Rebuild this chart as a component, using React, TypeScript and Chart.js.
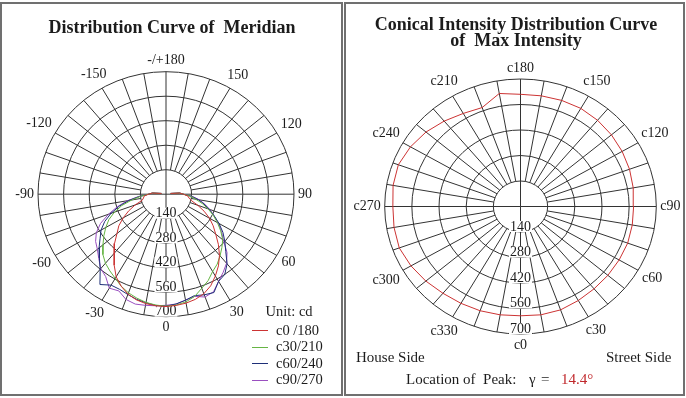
import React, { useEffect, useRef } from 'react';
import { Chart, registerables } from 'chart.js';

Chart.register(...registerables);

// ---------------- data ----------------
// Meridian (gamma) angles in degrees; negative = c180/c210/c240/c270 side
const gammaAngles = [-100, -95, -90, -85, -80, -75, -70, -65, -60, -55, -50, -45, -40, -35, -30, -25, -20, -15, -10, -5, 0,
  5, 10, 15, 20, 25, 30, 35, 40, 45, 50, 55, 60, 65, 70, 75, 80, 85, 90, 95, 100];
const c0_180 = [25, 75, 95, 120, 125, 135, 180, 225, 270, 315, 350, 398, 440, 495, 545, 580, 608, 625, 635, 640, 642,
  638, 632, 622, 605, 578, 540, 500, 455, 405, 355, 315, 275, 230, 185, 145, 128, 120, 95, 75, 25];
const c30_210 = [25, 75, 95, 140, 190, 250, 300, 345, 380, 415, 450, 488, 515, 535, 555, 580, 600, 615, 628, 636, 640,
  636, 625, 605, 572, 545, 510, 488, 460, 432, 405, 365, 325, 285, 245, 205, 165, 135, 95, 75, 25];
const c60_240 = [25, 75, 95, 145, 205, 265, 320, 370, 410, 440, 478, 515, 560, 630, 600, 600, 610, 622, 630, 638, 640,
  630, 615, 600, 612, 620, 575, 560, 520, 462, 420, 380, 335, 290, 250, 215, 180, 140, 95, 75, 25];
const c90_270 = [25, 75, 95, 150, 215, 275, 335, 395, 440, 470, 490, 520, 555, 575, 620, 610, 640, 650, 645, 640, 635,
  630, 615, 605, 625, 615, 575, 545, 515, 472, 410, 370, 330, 290, 255, 220, 185, 145, 95, 75, 25];

const seriesNames = ['c0 /180', 'c30/210', 'c60/240', 'c90/270'];
const seriesColors = ['#cc3333', '#66b544', '#1e2f78', '#9a4fc0'];

// Conical curve at gamma = 14.4
const coneAngles = [0, 10, 20, 30, 40, 50, 60, 70, 80, 90, 100, 110, 120, 130, 140, 150, 160, 170, 180,
  190, 200, 210, 220, 230, 240, 250, 260, 270, 280, 290, 300, 310, 320, 330, 340, 350];
const coneValues = [600, 604, 604, 596, 590, 588, 587, 588, 585, 583, 590, 598, 605, 612, 618, 622, 620, 617, 616,
  630, 578, 590, 612, 636, 655, 670, 667, 658, 662, 665, 652, 637, 622, 614, 609, 604];

// Tick labels
const ringTicks = [140, 280, 420, 560, 700];
const meridianTickAngles = [0, 30, 60, 90, 120, 150, 180, 210, 240, 270, 300, 330];
const meridianTickLabels = ['0', '30', '60', '90', '120', '150', '-/+180', '-150', '-120', '-90', '-60', '-30'];
const coneTickAngles = [0, 30, 60, 90, 120, 150, 180, 210, 240, 270, 300, 330];
const coneTickLabels = ['c0', 'c30', 'c60', 'c90', 'c120', 'c150', 'c180', 'c210', 'c240', 'c270', 'c300', 'c330'];

// ---------------- geometry / style ----------------
const SERIF = "'Liberation Serif', 'Times New Roman', serif";
const TEXT = '#1c1c1c';
const CANVAS_W = 343;
const CANVAS_H = 398;

type Geom = { cx: number; cy: number; rx: number; ry: number };
const leftGeom: Geom = { cx: 166, cy: 194.2, rx: 128, ry: 122.5 };
const rightGeom: Geom = { cx: 177.5, cy: 206.5, rx: 135.8, ry: 127.5 };

function toPoints(angles: number[], values: number[], close: boolean) {
  const pts = angles.map((a, i) => {
    const t = (a * Math.PI) / 180;
    return { x: values[i] * Math.sin(t), y: -values[i] * Math.cos(t) };
  });
  if (close) pts.push({ ...pts[0] });
  return pts;
}

function makeGridPlugin(tickAngles: number[], tickLabels: string[]) {
  return {
    id: 'polarGrid',
    beforeDatasetsDraw(chart: any) {
      const ctx: CanvasRenderingContext2D = chart.ctx;
      const xs = chart.scales.x;
      const ys = chart.scales.y;
      const cx = xs.getPixelForValue(0);
      const cy = ys.getPixelForValue(0);
      const rx = (v: number) => xs.getPixelForValue(v) - cx;
      const ry = (v: number) => cy - ys.getPixelForValue(v);
      const maxV = ringTicks[ringTicks.length - 1];
      const minV = ringTicks[0];
      const pt = (deg: number, v: number) => {
        const t = (deg * Math.PI) / 180;
        return [cx + rx(v) * Math.sin(t), cy + ry(v) * Math.cos(t)];
      };
      ctx.save();
      ctx.strokeStyle = '#333';
      ctx.lineWidth = 1;
      // rings
      ringTicks.forEach((t) => {
        ctx.beginPath();
        ctx.ellipse(cx, cy, rx(t), ry(t), 0, 0, Math.PI * 2);
        ctx.stroke();
      });
      // spokes every 10 degrees
      for (let a = 0; a < 360; a += 10) {
        const inner = a % 90 === 0 ? 0 : minV;
        const [x0, y0] = pt(a, inner);
        const [x1, y1] = pt(a, maxV);
        ctx.beginPath();
        ctx.moveTo(x0, y0);
        ctx.lineTo(x1, y1);
        ctx.stroke();
      }
      // ring labels along the 0 direction
      ctx.font = `14px ${SERIF}`;
      ctx.textAlign = 'center';
      ctx.textBaseline = 'middle';
      ringTicks.forEach((t) => {
        const y = cy + ry(t) - 5.5;
        const w = ctx.measureText(String(t)).width;
        ctx.fillStyle = '#fff';
        ctx.fillRect(cx - w / 2 - 1, y - 5.5, w + 2, 11);
        ctx.fillStyle = TEXT;
        ctx.fillText(String(t), cx, y + 0.5);
      });
      // angle labels
      tickAngles.forEach((a, i) => {
        const label = tickLabels[i];
        const t = (a * Math.PI) / 180;
        const s = Math.sin(t);
        const c = Math.cos(t);
        const w = ctx.measureText(label).width;
        const off = 4 + Math.abs(s) * (w / 2) + Math.abs(c) * 7;
        const [ex, ey] = pt(a, maxV);
        ctx.fillStyle = TEXT;
        ctx.fillText(label, ex + off * s, ey + off * c);
      });
      ctx.restore();
    },
  };
}

function PolarChart(props: {
  geom: Geom;
  left: number;
  datasets: any[];
  tickAngles: number[];
  tickLabels: string[];
}) {
  const ref = useRef<HTMLCanvasElement>(null);
  useEffect(() => {
    const { geom } = props;
    const maxV = ringTicks[ringTicks.length - 1];
    const kx = geom.rx / maxV;
    const ky = geom.ry / maxV;
    const chart = new Chart(ref.current as HTMLCanvasElement, {
      type: 'scatter',
      data: { datasets: props.datasets },
      options: {
        responsive: false,
        animation: false,
        devicePixelRatio: 1,
        events: [],
        layout: { padding: 0, autoPadding: false },
        plugins: { legend: { display: false }, tooltip: { enabled: false }, title: { display: false } },
        scales: {
          x: { type: 'linear', display: false, min: -geom.cx / kx, max: (CANVAS_W - geom.cx) / kx },
          y: { type: 'linear', display: false, min: -(CANVAS_H - geom.cy) / ky, max: geom.cy / ky },
        },
      } as any,
      plugins: [makeGridPlugin(props.tickAngles, props.tickLabels) as any],
    });
    return () => chart.destroy();
  }, []);
  return (
    <canvas
      ref={ref}
      width={CANVAS_W}
      height={CANVAS_H}
      style={{ position: 'absolute', left: props.left, top: 0, width: CANVAS_W, height: CANVAS_H }}
    />
  );
}

function Txt(props: {
  x: number;
  base: number;
  size: number;
  bold?: boolean;
  color?: string;
  align?: 'left' | 'center';
  children: React.ReactNode;
}) {
  const { x, base, size, bold, color, align } = props;
  return (
    <div
      style={{
        position: 'absolute',
        left: x,
        top: base - 0.8375 * size,
        fontFamily: SERIF,
        fontSize: size,
        lineHeight: `${size}px`,
        fontWeight: bold ? 'bold' : 'normal',
        color: color || TEXT,
        whiteSpace: 'pre',
        transform: align === 'center' ? 'translateX(-50%)' : undefined,
      }}
    >
      {props.children}
    </div>
  );
}

export default function App() {
  const meridianSeries = [c0_180, c30_210, c60_240, c90_270];
  const leftDatasets = meridianSeries.map((vals, i) => ({
    label: seriesNames[i],
    data: toPoints(gammaAngles, vals, false),
    showLine: true,
    borderColor: seriesColors[i],
    borderWidth: 1,
    pointRadius: 0,
    tension: 0,
    fill: false,
  }));
  const rightDatasets = [
    {
      label: 'gamma 14.4',
      data: toPoints(coneAngles, coneValues, true),
      showLine: true,
      borderColor: '#cc3333',
      borderWidth: 1,
      pointRadius: 0,
      tension: 0,
      fill: false,
    },
  ];
  const box = (left: number, width: number): React.CSSProperties => ({
    position: 'absolute',
    left,
    top: 2,
    width,
    height: 394,
    boxSizing: 'border-box',
    border: '2px solid #707070',
  });
  const legendBase = [335, 351.5, 368, 384.5];
  return (
    <div style={{ position: 'fixed', left: 0, top: 0, width: 686, height: 398, background: '#fff', overflow: 'hidden' }}>
      <div style={box(0, 343)} />
      <div style={box(344, 341)} />
      <PolarChart geom={leftGeom} left={0} datasets={leftDatasets} tickAngles={meridianTickAngles} tickLabels={meridianTickLabels} />
      <PolarChart geom={rightGeom} left={343} datasets={rightDatasets} tickAngles={coneTickAngles} tickLabels={coneTickLabels} />

      <Txt x={172} base={33.3} size={18} bold align="center">Distribution Curve of  Meridian</Txt>
      <Txt x={516} base={30.5} size={18} bold align="center">Conical Intensity Distribution Curve</Txt>
      <Txt x={516} base={45.7} size={18} bold align="center">of  Max Intensity</Txt>

      <Txt x={265.5} base={316} size={14.5}>Unit: cd</Txt>
      {seriesNames.map((n, i) => (
        <React.Fragment key={n}>
          <div
            style={{
              position: 'absolute',
              left: 252,
              top: Math.round(legendBase[i] - 5),
              width: 16,
              height: 1,
              background: seriesColors[i],
            }}
          />
          <Txt x={276} base={legendBase[i]} size={14.5}>{n}</Txt>
        </React.Fragment>
      ))}

      <Txt x={356} base={362.5} size={15}>House Side</Txt>
      <Txt x={606} base={362.5} size={15}>Street Side</Txt>
      <Txt x={406} base={385} size={15}>Location of  Peak:</Txt>
      <Txt x={529} base={385} size={15}>γ</Txt>
      <Txt x={541} base={385} size={15}>=</Txt>
      <Txt x={561} base={385} size={15} color="#c0282c">14.4°</Txt>
    </div>
  );
}
